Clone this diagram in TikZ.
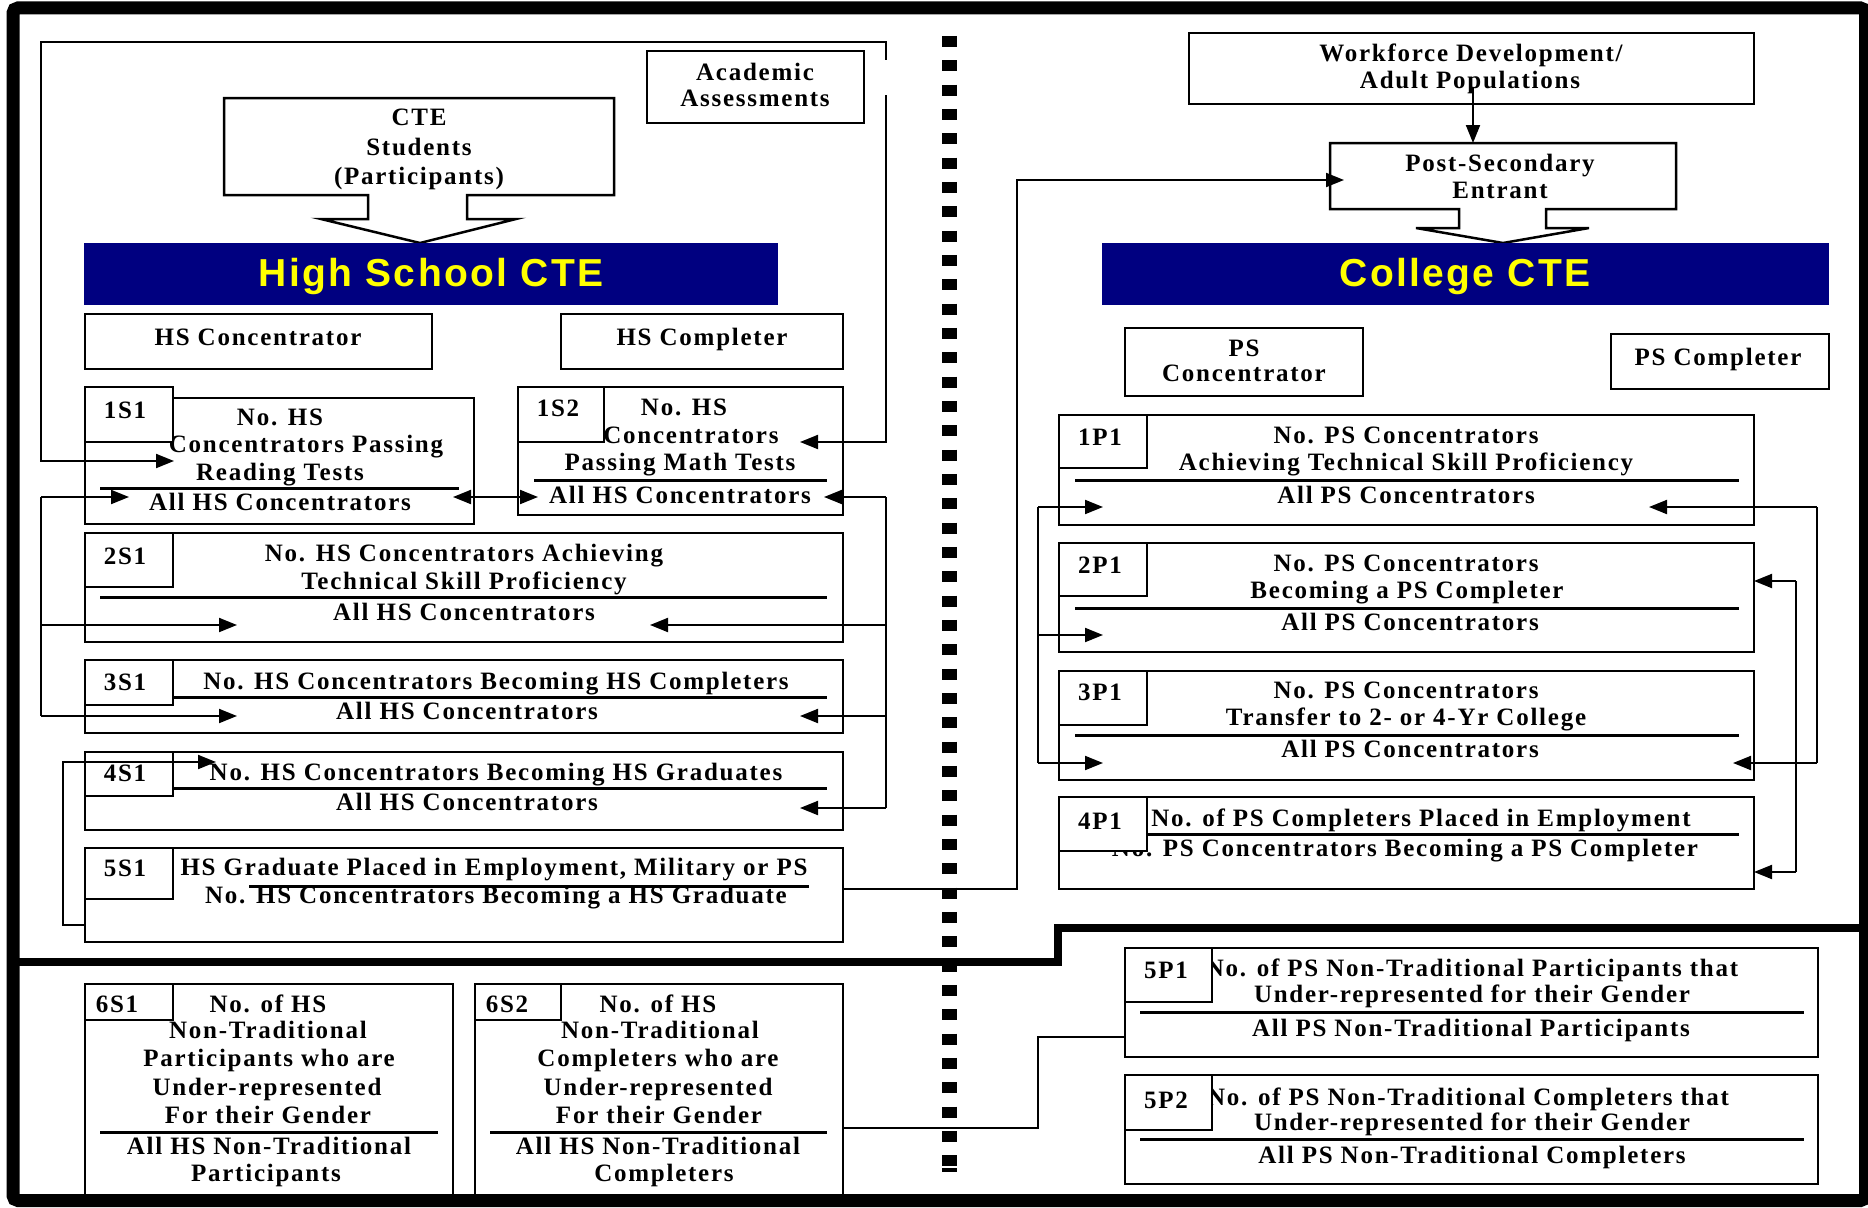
\documentclass[tikz,border=0pt]{standalone}
\usepackage{fontspec}
\newfontfamily\tnr{Liberation Serif}[LetterSpace=7]
\newfontfamily\ars{Liberation Sans}[LetterSpace=6]
\usetikzlibrary{arrows.meta}
\definecolor{hsnavy}{RGB}{0,0,128}
\definecolor{hsyellow}{RGB}{255,255,0}
\newcommand\bxat[6][box]{\node[#1, minimum width={#5-#3}, minimum height={#6-#4}] (#2) at ({(#3+#5)/2},{(#4+#6)/2}) {};}
\newcommand\tln[4]{\node[txt] (#1) at (#2,{#3+8.3}) {#4};}
\begin{document}
\begin{tikzpicture}[x=1pt,y=-1pt,
  box/.style={draw, line width=2.5pt, inner sep=0pt, outer sep=0pt, fill=white},
  bar/.style={fill=hsnavy, draw=none, inner sep=0pt, outer sep=0pt},
  txt/.style={font=\tnr\bfseries\fontsize{25}{29}\selectfont, inner sep=0pt, anchor=base},
  head/.style={font=\ars\bfseries\fontsize{39}{46}\selectfont, text=hsyellow, inner sep=0pt, anchor=base},
  divl/.style={line width=3pt},
  conn/.style={line width=2pt},
  arr/.style={line width=2pt, -{Triangle[length=18pt,width=14pt]}},
  darr/.style={line width=2pt, {Triangle[length=18pt,width=14pt]}-{Triangle[length=18pt,width=14pt]}},
]
\useasboundingbox (0,0) rectangle (1868,1207);
\fill[white] (0,0) rectangle (1868,1207);

% ---------------- High school side ----------------
\bxat{acad}{647}{51}{864}{123}
\tln{acadA}{755}{72}{Academic}
\tln{acadB}{755}{98}{Assessments}

\draw[line width=2.5pt, fill=white] (224,98) -- (614,98) -- (614,195) -- (467,195) -- (467,219) -- (516,219) -- (420,243) -- (321,219) -- (368,219) -- (368,195) -- (224,195) -- cycle;
\node[inner sep=0pt, minimum width=390, minimum height=97] (cte) at (419,146.5) {};
\tln{cteA}{419}{117}{CTE}
\tln{cteB}{419}{147}{Students}
\tln{cteC}{419}{176}{(Participants)}

\bxat[bar]{hsbar}{84}{243}{778}{305}
\node[head] (hshead) at (431,286) {High School CTE};

\bxat{hsconc}{85}{314}{432}{369}
\tln{hsconcT}{258}{337}{HS Concentrator}
\bxat{hscomp}{561}{314}{843}{369}
\tln{hscompT}{702}{337}{HS Completer}

% 1S1
\bxat{s11}{85}{398}{474}{524}
\draw[divl] (100,488) -- (459,488);
\tln{s11a}{280}{417}{No. HS}
\tln{s11b}{306}{444}{Concentrators Passing}
\tln{s11c}{280}{472}{Reading Tests}
\tln{s11d}{280}{502}{All HS Concentrators}
\bxat{s11L}{85}{387}{173}{442}
\tln{s11l}{125}{410}{1S1}

% 1S2
\bxat{s12}{518}{387}{843}{515}
\draw[divl] (534,480) -- (827,480);
\tln{s12a}{684}{407}{No. HS}
\tln{s12b}{691}{435}{Concentrators}
\tln{s12c}{680}{462}{Passing Math Tests}
\tln{s12d}{680}{495}{All HS Concentrators}
\bxat{s12L}{518}{387}{604}{442}
\tln{s12l}{558}{408}{1S2}

% 2S1
\bxat{s21}{85}{533}{843}{642}
\draw[divl] (100,597) -- (827,597);
\tln{s21a}{464}{553}{No. HS Concentrators Achieving}
\tln{s21b}{464}{581}{Technical Skill Proficiency}
\tln{s21c}{464}{612}{All HS Concentrators}
\bxat{s21L}{85}{533}{173}{587}
\tln{s21l}{125}{556}{2S1}

% 3S1
\bxat{s31}{85}{660}{843}{733}
\draw[divl] (173,697) -- (827,697);
\tln{s31a}{496}{681}{No. HS Concentrators Becoming HS Completers}
\tln{s31b}{467}{711}{All HS Concentrators}
\bxat{s31L}{85}{660}{173}{705}
\tln{s31l}{125}{682}{3S1}

% 4S1
\bxat{s41}{85}{752}{843}{830}
\draw[divl] (173,788) -- (827,788);
\tln{s41a}{496}{772}{No. HS Concentrators Becoming HS Graduates}
\tln{s41b}{467}{802}{All HS Concentrators}
\bxat{s41L}{85}{752}{173}{796}
\tln{s41l}{125}{773}{4S1}

% 5S1
\bxat{s51}{85}{848}{843}{942}
\tln{s51a}{494}{867}{HS Graduate Placed in Employment, Military or PS}
\tln{s51b}{496}{895}{No. HS Concentrators Becoming a HS Graduate}
\draw[divl] (249,886) -- (809,886);
\bxat{s51L}{85}{848}{173}{899}
\tln{s51l}{125}{868}{5S1}

% 6S1
\bxat{s61}{85}{984}{453}{1197}
\draw[divl] (100,1132) -- (438,1132);
\tln{s61a}{268}{1004}{No. of HS}
\tln{s61b}{268}{1030}{Non-Traditional}
\tln{s61c}{269}{1058}{Participants who are}
\tln{s61d}{267}{1087}{Under-represented}
\tln{s61e}{268}{1115}{For their Gender}
\tln{s61f}{269}{1146}{All HS Non-Traditional}
\tln{s61g}{266}{1173}{Participants}
\bxat{s61L}{85}{984}{173}{1020}
\tln{s61l}{117}{1004}{6S1}

% 6S2
\bxat{s62}{475}{984}{843}{1197}
\draw[divl] (490,1132) -- (827,1132);
\tln{s62a}{658}{1004}{No. of HS}
\tln{s62b}{660}{1030}{Non-Traditional}
\tln{s62c}{658}{1058}{Completers who are}
\tln{s62d}{658}{1087}{Under-represented}
\tln{s62e}{659}{1115}{For their Gender}
\tln{s62f}{658}{1146}{All HS Non-Traditional}
\tln{s62g}{664}{1173}{Completers}
\bxat{s62L}{475}{984}{561}{1020}
\tln{s62l}{507}{1004}{6S2}

% ---------------- College side ----------------
\bxat{wf}{1189}{33}{1754}{104}
\tln{wfA}{1471}{53}{Workforce Development/}
\tln{wfB}{1470}{80}{Adult Populations}

\draw[line width=2.5pt, fill=white] (1330,143) -- (1676,143) -- (1676,209) -- (1546,209) -- (1546,228) -- (1589,228) -- (1503,243) -- (1416,228) -- (1459,228) -- (1459,209) -- (1330,209) -- cycle;
\node[inner sep=0pt, minimum width=346, minimum height=66] (pse) at (1503,176) {};
\tln{pseA}{1500}{163}{Post-Secondary}
\tln{pseB}{1500}{190}{Entrant}

\bxat[bar]{cbar}{1102}{243}{1829}{305}
\node[head] (chead) at (1465,286) {College CTE};

\bxat{psconc}{1125}{328}{1363}{396}
\tln{psconcA}{1244}{348}{PS}
\tln{psconcB}{1244}{373}{Concentrator}
\bxat{pscomp}{1611}{334}{1829}{389}
\tln{pscompT}{1718}{357}{PS Completer}

% 1P1
\bxat{p11}{1059}{415}{1754}{525}
\draw[divl] (1075,480) -- (1739,480);
\tln{p11a}{1406}{435}{No. PS Concentrators}
\tln{p11b}{1406}{462}{Achieving Technical Skill Proficiency}
\tln{p11c}{1406}{495}{All PS Concentrators}
\bxat{p11L}{1059}{415}{1147}{468}
\tln{p11l}{1100}{437}{1P1}

% 2P1
\bxat{p21}{1059}{543}{1754}{652}
\draw[divl] (1075,608) -- (1739,608);
\tln{p21a}{1406}{563}{No. PS Concentrators}
\tln{p21b}{1407}{590}{Becoming a PS Completer}
\tln{p21c}{1410}{622}{All PS Concentrators}
\bxat{p21L}{1059}{543}{1147}{596}
\tln{p21l}{1100}{565}{2P1}

% 3P1
\bxat{p31}{1059}{671}{1754}{780}
\draw[divl] (1075,735) -- (1739,735);
\tln{p31a}{1406}{690}{No. PS Concentrators}
\tln{p31b}{1406}{717}{Transfer to 2- or 4-Yr College}
\tln{p31c}{1410}{749}{All PS Concentrators}
\bxat{p31L}{1059}{671}{1147}{725}
\tln{p31l}{1100}{692}{3P1}

% 4P1
\bxat{p41}{1059}{797}{1754}{889}
\draw[divl] (1075,834) -- (1739,834);
\tln{p41a}{1421}{818}{No. of PS Completers Placed in Employment}
\tln{p41b}{1405}{848}{No. PS Concentrators Becoming a PS Completer}
\bxat{p41L}{1059}{797}{1147}{851}
\tln{p41l}{1100}{821}{4P1}

% 5P1
\bxat{p51}{1125}{948}{1818}{1057}
\draw[divl] (1140,1012) -- (1804,1012);
\tln{p51a}{1472}{968}{No. of PS Non-Traditional Participants that}
\tln{p51b}{1472}{994}{Under-represented for their Gender}
\tln{p51c}{1471}{1028}{All PS Non-Traditional Participants}
\bxat{p51L}{1125}{948}{1212}{1002}
\tln{p51l}{1166}{970}{5P1}

% 5P2
\bxat{p52}{1125}{1075}{1818}{1184}
\draw[divl] (1140,1139) -- (1804,1139);
\tln{p52a}{1468}{1097}{No. of PS Non-Traditional Completers that}
\tln{p52b}{1472}{1122}{Under-represented for their Gender}
\tln{p52c}{1472}{1155}{All PS Non-Traditional Completers}
\bxat{p52L}{1125}{1075}{1212}{1130}
\tln{p52l}{1166}{1100}{5P2}

% ---------------- separators ----------------
\draw[line width=15pt, dash pattern=on 11pt off 13.33pt] (949.5,36) -- (949.5,1166);
\fill (942,1168) rectangle (957,1172);
\draw[line width=8pt] (13,962) -- (1058,962) -- (1058,928) -- (1866,928);

% ---------------- connectors ----------------
\coordinate (acadTop) at (886,60);
\coordinate (acadBot) at (886,95);
\coordinate (s11in) at (174,461);
\coordinate (s12in) at (800,442);
\draw[arr] (acadTop) |- (41,42) |- (s11in);
\draw[arr] (acadBot) |- (s12in);

\coordinate (lb1) at (41,497);
\coordinate (lb3) at (41,716);
\coordinate (s11dn) at (129,497);
\coordinate (s21in) at (237,625);
\coordinate (s31in) at (237,716);
\draw[conn] (lb1) -- (lb3);
\draw[arr] (lb1) -- (s11dn);
\draw[arr] (lb1 |- s21in) -- (s21in);
\draw[arr] (lb3) -- (s31in);

\coordinate (rb1) at (886,497);
\coordinate (rb4) at (886,808);
\coordinate (s12dn) at (824,497);
\coordinate (s21r) at (650,625);
\coordinate (s31r) at (800,716);
\coordinate (s41r) at (800,808);
\draw[conn] (rb1) -- (rb4);
\draw[arr] (rb1) -- (s12dn);
\draw[arr] (rb1 |- s21r) -- (s21r);
\draw[arr] (rb1 |- s31r) -- (s31r);
\draw[arr] (rb4) -- (s41r);

\coordinate (dA) at (453,497);
\coordinate (dB) at (538,497);
\draw[darr] (dA) -- (dB);

\coordinate (s51w) at (85,925);
\coordinate (s41in) at (216,762);
\draw[arr] (s51w) -- (63,925) |- (s41in);

\coordinate (s51e) at (843,889);
\coordinate (psein) at (1344,180);
\draw[arr] (s51e) -- (1017,889) |- (psein);

\coordinate (wfo) at (1473,88);
\coordinate (psetop) at (1473,143);
\draw[arr] (wfo) -- (psetop);

\coordinate (plb1) at (1038,507);
\coordinate (plb3) at (1038,763);
\coordinate (p11in) at (1103,507);
\coordinate (p21in) at (1103,635);
\coordinate (p31in) at (1103,763);
\draw[conn] (plb1) -- (plb3);
\draw[arr] (plb1) -- (p11in);
\draw[arr] (plb1 |- p21in) -- (p21in);
\draw[arr] (plb3) -- (p31in);

\coordinate (pra1) at (1817,507);
\coordinate (pra3) at (1817,763);
\coordinate (p11r) at (1649,507);
\coordinate (p31r) at (1733,763);
\draw[conn] (pra1) -- (pra3);
\draw[arr] (pra1) -- (p11r);
\draw[arr] (pra3) -- (p31r);

\coordinate (prb1) at (1796,581);
\coordinate (prb4) at (1796,872);
\coordinate (p21r) at (1754,581);
\coordinate (p41r) at (1754,872);
\draw[conn] (prb1) -- (prb4);
\draw[arr] (prb1) -- (p21r);
\draw[arr] (prb4) -- (p41r);

\coordinate (s62e) at (843,1128);
\coordinate (p51w) at (1125,1037);
\draw[conn] (s62e) -- (1038,1128) |- (p51w);

% ---------------- frame ----------------
\draw[line width=13pt, rounded corners=5pt] (13,8) rectangle (1865.5,1200.5);
\end{tikzpicture}
\end{document}
